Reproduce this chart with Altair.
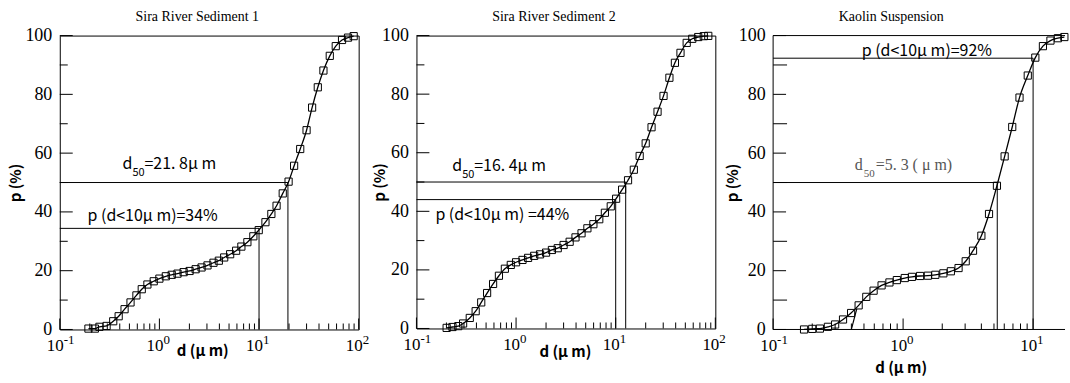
import altair as alt
import pandas as pd

TITLES = ["Sira River Sediment 1", "Sira River Sediment 2", "Kaolin Suspension"]

# Sira River Sediment 1: particle size d (um) and cumulative percentage p (%)
S1_D = [0.194, 0.225, 0.25, 0.295, 0.344, 0.39, 0.447, 0.513, 0.588, 0.665,
        0.758, 0.877, 1.0, 1.16, 1.33, 1.52, 1.75, 2.01, 2.31, 2.65,
        3.04, 3.49, 3.95, 4.47, 5.13, 5.89, 6.65, 7.64, 8.77, 9.93,
        11.6, 13.3, 15.0, 17.3, 19.8, 22.5, 25.9, 30.0, 34.1, 38.9,
        44.3, 51.3, 58.9, 68.1, 78.2, 89.1]
S1_P = [0.3, 0.3, 0.9, 1.2, 2.8, 4.5, 6.9, 9.2, 11.6, 13.7,
        15.3, 16.4, 17.3, 18.1, 18.6, 19.0, 19.5, 19.9, 20.5, 21.1,
        21.8, 22.7, 23.4, 24.5, 25.6, 26.8, 28.2, 29.7, 31.7, 33.8,
        36.5, 39.3, 42.1, 46.3, 50.3, 55.7, 61.4, 67.8, 75.5, 82.4,
        88.1, 93.1, 96.4, 98.5, 99.3, 99.8]

# Sira River Sediment 2
S2_D = [0.201, 0.23, 0.263, 0.294, 0.343, 0.393, 0.447, 0.512, 0.588, 0.673,
        0.772, 0.885, 1.0, 1.16, 1.32, 1.52, 1.74, 2.0, 2.29, 2.62,
        3.0, 3.45, 3.95, 4.54, 5.2, 5.97, 6.84, 7.79, 8.92, 10.1,
        11.6, 13.3, 15.2, 17.4, 20.0, 22.9, 26.3, 30.2, 34.6, 39.3,
        44.7, 51.6, 58.7, 67.3, 76.6, 85.0]
S2_P = [0.2, 0.5, 0.8, 1.7, 3.6, 5.9, 8.9, 12.1, 15.2, 18.0,
        20.4, 21.7, 22.6, 23.4, 24.1, 24.8, 25.3, 25.9, 26.8, 27.4,
        28.5, 29.6, 31.1, 32.5, 34.2, 35.6, 37.3, 39.5, 41.7, 44.3,
        47.4, 50.6, 54.2, 58.9, 63.2, 68.7, 74.0, 79.4, 85.6, 90.7,
        94.1, 97.5, 98.9, 99.5, 99.8, 99.9]

# Kaolin Suspension
S3_D = [0.173, 0.2, 0.229, 0.264, 0.3, 0.345, 0.398, 0.455, 0.521, 0.593,
        0.683, 0.785, 0.895, 1.03, 1.17, 1.35, 1.55, 1.77, 2.04, 2.33,
        2.67, 3.03, 3.45, 4.0, 4.58, 5.27, 6.04, 6.91, 7.86, 9.1,
        10.4, 11.9, 13.6, 15.5, 17.4]
S3_P = [0.0, 0.2, 0.3, 0.9, 1.7, 3.4, 5.6, 8.2, 11.1, 13.2,
        15.0, 16.0, 16.8, 17.5, 17.9, 18.2, 18.3, 18.6, 19.1, 19.8,
        20.9, 23.2, 26.8, 31.9, 39.3, 48.9, 58.9, 68.9, 78.9, 86.4,
        92.5, 96.4, 98.3, 99.1, 99.5]
# short start of the fitted curve in the kaolin panel
S3_TAIL_D = [0.40, 0.44]
S3_TAIL_P = [0.0, 7.0]

# marked values: d50 (drawn position) and p(d<10um)
D50_POS = [19.5, 12.6, 5.3]
P10 = [34.4, 44.0, 92.3]
D_REF = 10.0
P_HALF = 50.0

D50_TEXT = ["=21. 8μ m", "=16. 4μ m", "=5. 3 ( μ m)"]
P10_TEXT = ["p (d<10μ m)=34%", "p (d<10μ m) =44%", "p (d<10μ m)=92%"]
# label anchors in data coordinates (x, y of baseline start)
D50_ANCHOR = [(0.427, 54.6), (0.229, 53.7), (0.425, 54.2)]
P10_ANCHOR = [(0.19, 36.9), (0.155, 37.1), (0.481, 92.9)]

X_TICKS = [0.1, 1, 10, 100]
X_TICK_BASE = ["10", "10", "10", "10"]
X_TICK_EXP = ["-1", "0", "1", "2"]
X_MINOR_MULT = [2, 3, 4, 5, 6, 7, 8, 9]
Y_MAJOR = [0, 20, 40, 60, 80, 100]
Y_MINOR = [10, 30, 50, 70, 90]
X_MAX = [100, 100, 17.6]

GOTHIC = "Noto Sans CJK JP"
SERIF = "Liberation Serif"

LAYOUT = [
    dict(w=300, h=295, ytx=-36, xtx=143, xty=14, tdx=-12, ymin=8, frame=True, serif=False),
    dict(w=300, h=294, ytx=-29, xtx=149, xty=16, tdx=-12, ymin=8, frame=True, serif=False),
    dict(w=293, h=295, ytx=-33, xtx=128, xty=31, tdx=-28, ymin=14, frame=False, serif=True),
]


def panel(i):
    L = LAYOUT[i]
    W, H = L["w"], L["h"]
    xmax = X_MAX[i]
    xs = alt.Scale(type="log", domain=[0.1, xmax], nice=False)
    ys = alt.Scale(domain=[0, 100], nice=False)
    ticks = [t for t in X_TICKS if t <= xmax]
    xax = alt.Axis(values=ticks, labels=False, ticks=False, domain=False, grid=False,
                   title="d (μ m)", titleFont=GOTHIC,
                   titleFontWeight="bold", titleFontSize=15, titleX=L["xtx"], titleY=L["xty"],
                   titleBaseline="top", titleAlign="center", titleColor="black")
    yax = alt.Axis(values=Y_MAJOR, ticks=False, domain=False, grid=False, labelFont=SERIF,
                   labelFontSize=18, labelPadding=8, labelColor="black", title="p (%)",
                   titleFont=GOTHIC, titleFontWeight="bold", titleFontSize=15,
                   titleX=L["ytx"], titleColor="black")

    def X(f):
        return alt.X(f, type="quantitative", scale=xs, axis=xax)

    def Y(f):
        return alt.Y(f, type="quantitative", scale=ys, axis=yax)

    D = [S1_D, S2_D, S3_D][i]
    P = [S1_P, S2_P, S3_P][i]
    df = pd.DataFrame({"d": D, "p": P})

    layers = []
    line = alt.Chart(df).mark_line(color="black", strokeWidth=1.3, interpolate="monotone").encode(x=X("d"), y=Y("p"))
    layers.append(line)
    if i == 2:
        tail = pd.DataFrame({"d": S3_TAIL_D, "p": S3_TAIL_P})
        layers.append(alt.Chart(tail).mark_line(color="black", strokeWidth=1.2).encode(x=X("d"), y=Y("p")))
    pts = alt.Chart(df).mark_point(shape="square", filled=False, size=52, color="black",
                                   strokeWidth=1, opacity=1).encode(x=X("d"), y=Y("p"))
    layers.append(pts)

    seg = pd.DataFrame({
        "x1": [0.1, 0.1, D50_POS[i], D_REF],
        "x2": [D50_POS[i], D_REF, D50_POS[i], D_REF],
        "y1": [P_HALF, P10[i], 0, 0],
        "y2": [P_HALF, P10[i], P_HALF, P10[i]],
    })
    layers.append(alt.Chart(seg).mark_rule(color="black", strokeWidth=1).encode(
        x=X("x1"), x2="x2", y=Y("y1"), y2="y2"))

    # inward ticks
    layers.append(alt.Chart(pd.DataFrame({"v": Y_MAJOR})).mark_rule(color="black").encode(
        y=Y("v"), x=alt.value(0), x2=alt.value(13)))
    layers.append(alt.Chart(pd.DataFrame({"v": Y_MINOR})).mark_rule(color="black").encode(
        y=Y("v"), x=alt.value(0), x2=alt.value(L["ymin"])))
    layers.append(alt.Chart(pd.DataFrame({"v": ticks})).mark_rule(color="black").encode(
        x=X("v"), y=alt.value(H), y2=alt.value(H - 11)))
    minor = [t * m for t in X_TICKS for m in X_MINOR_MULT if t * m < xmax]
    layers.append(alt.Chart(pd.DataFrame({"v": minor})).mark_rule(color="black").encode(
        x=X("v"), y=alt.value(H), y2=alt.value(H - 6)))

    # x tick labels 10^n
    n = len(ticks)
    tl = pd.DataFrame({"v": ticks, "b": X_TICK_BASE[:n], "e": X_TICK_EXP[:n]})
    layers.append(alt.Chart(tl).mark_text(align="right", baseline="alphabetic", font=SERIF,
                                          fontSize=17, color="black", dx=4).encode(
        x=X("v"), y=alt.value(H + 22), text="b:N"))
    layers.append(alt.Chart(tl).mark_text(align="left", baseline="alphabetic", font=SERIF,
                                          fontSize=13, color="black", dx=4).encode(
        x=X("v"), y=alt.value(H + 15), text="e:N"))

    if not L["frame"]:
        layers.append(alt.Chart(pd.DataFrame({"v": [100]})).mark_rule(color="black").encode(
            y=Y("v"), x=alt.value(0), x2=alt.value(W)))
        layers.append(alt.Chart(pd.DataFrame({"v": [0]})).mark_rule(color="black").encode(
            y=Y("v"), x=alt.value(0), x2=alt.value(W)))
        layers.append(alt.Chart(pd.DataFrame({"v": [0.1]})).mark_rule(color="black").encode(
            x=X("v"), y=alt.value(0), y2=alt.value(H)))

    # annotations
    ax, ay = D50_ANCHOR[i]
    font = SERIF if L["serif"] else GOTHIC
    tcol = "#555555" if L["serif"] else "black"
    dd = pd.DataFrame({"x": [ax], "y": [ay]})
    d_w = 9 if L["serif"] else 10
    layers.append(alt.Chart(dd).mark_text(text="d", align="left", baseline="alphabetic", font=font,
                                          fontSize=16, color=tcol).encode(x=X("x"), y=Y("y")))
    layers.append(alt.Chart(dd).mark_text(text="50", align="left", baseline="alphabetic", font=font,
                                          fontSize=11, color=tcol, dx=d_w, dy=7).encode(x=X("x"), y=Y("y")))
    layers.append(alt.Chart(dd).mark_text(text=D50_TEXT[i], align="left", baseline="alphabetic", font=font,
                                          fontSize=16, color=tcol, dx=d_w + 12).encode(x=X("x"), y=Y("y")))
    px, py = P10_ANCHOR[i]
    pdf = pd.DataFrame({"x": [px], "y": [py], "t": [P10_TEXT[i]]})
    layers.append(alt.Chart(pdf).mark_text(align="left", baseline="alphabetic", font=GOTHIC,
                                           fontSize=16, color="black").encode(x=X("x"), y=Y("y"), text="t:N"))

    ch = alt.layer(*layers).properties(
        width=W, height=H,
        title=alt.TitleParams(TITLES[i], font=SERIF, fontSize=14, fontWeight="normal",
                              frame="group", dx=L["tdx"], offset=3, color="black"))
    if not L["frame"]:
        ch = ch.properties(view=alt.ViewBackground(stroke=None))
    return ch


chart = alt.hconcat(panel(0), panel(1), panel(2), spacing=58, bounds="flush").configure(
    padding={"left": 8, "top": 8, "right": 0, "bottom": 0}, background="white"
).configure_view(stroke="black", strokeWidth=1)

chart.save("out.html", embed_options={"renderer": "svg", "actions": False})
